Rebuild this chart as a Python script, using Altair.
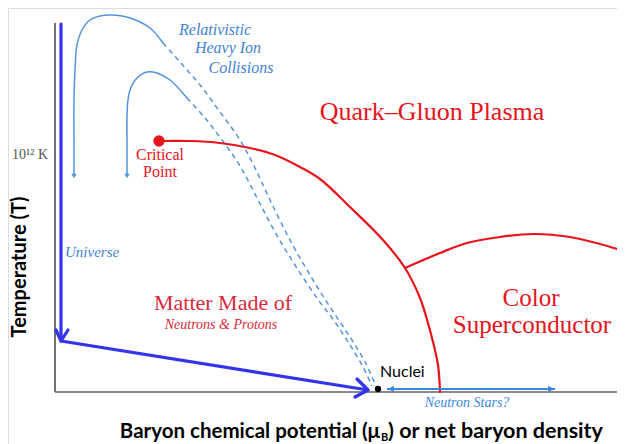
import altair as alt
import pandas as pd

# ---- coordinate frame: x = baryon chemical potential, y = temperature (arbitrary units) ----
X_DOMAIN = [-47, 562]
Y_DOMAIN = [-52, 384]
W, H = 609, 436

# axes frame
axis_v_x = [0, 0]
axis_v_y = [369, 0]
axis_h_x = [0, 562]
axis_h_y = [0, 0]

# Early universe trajectory (thick blue)
universe_x = [6, 6, 313]
universe_y = [368, 51, 2]
universe_head1_x = [1, 6, 13]
universe_head1_y = [62, 51, 62]
universe_head2_x = [302, 313, 300]
universe_head2_y = [13, 2, -5]

# Heavy-ion collision trajectories (light blue)
outer_solid_x = [19, 19, 19, 20, 22, 27, 35, 45, 55, 67, 78, 95, 108]
outer_solid_y = [218, 252, 292, 322, 347, 362, 372, 376, 377, 376, 373, 364, 349]
outer_dash_x = [108, 125, 145, 165, 185, 200, 215, 235, 255, 275, 295, 310, 321]
outer_dash_y = [349, 330, 307, 280, 252, 224, 192, 152, 117, 85, 55, 30, 6]
inner_solid_x = [72, 72, 72, 73, 75, 82, 92, 102, 115, 132]
inner_solid_y = [218, 252, 277, 292, 302, 314, 320, 319, 312, 294]
inner_dash_x = [132, 150, 167, 185, 202, 220, 240, 262, 280, 295, 308, 317]
inner_dash_y = [294, 274, 252, 226, 194, 160, 127, 94, 70, 47, 25, 6]
hic_heads_x = [19, 72]
hic_heads_y = [216, 216]

# Phase boundary (red)
boundary_x = [104, 135, 165, 195, 220, 245, 265, 295, 328, 350, 365, 377, 383, 385]
boundary_y = [251, 251, 249, 244, 237, 225, 213, 185, 152, 124, 94, 54, 27, 0]
csc_x = [350, 385, 412, 445, 478, 515, 545, 562]
csc_y = [124, 139, 149, 155, 158, 155, 148, 143]
critical_x = [104]
critical_y = [251]

# Nuclei and neutron stars
nuclei_x = [323]
nuclei_y = [3]
ns_x = [332, 500]
ns_y = [3, 3]
ns_heads_x = [336, 496]
ns_heads_y = [3, 3]
ns_heads_shape = ["triangle-left", "triangle-right"]

RED = "#e8131c"
BLUE_DARK = "#3333ee"
BLUE_LIGHT = "#5593db"
BLUE_TEXT = "#3f7fd6"

X = alt.X("x:Q", scale=alt.Scale(domain=X_DOMAIN, nice=False, zero=False), axis=None)
Y = alt.Y("y:Q", scale=alt.Scale(domain=Y_DOMAIN, nice=False, zero=False), axis=None)


def line(xs, ys, color, width, dash=None, cap="round", join="round", interp="linear"):
    df = pd.DataFrame({"x": xs, "y": ys, "i": list(range(len(xs)))})
    kw = dict(color=color, strokeWidth=width, strokeCap=cap, strokeJoin=join, interpolate=interp)
    if dash:
        kw["strokeDash"] = dash
    return alt.Chart(df).mark_line(**kw).encode(x=X, y=Y, order="i:Q")


def points(xs, ys, color, size, shape="circle"):
    df = pd.DataFrame({"x": xs, "y": ys})
    return alt.Chart(df).mark_point(filled=True, opacity=1, color=color, size=size,
                                    shape=shape, strokeWidth=0).encode(x=X, y=Y)


def text(xs, ys, labels, **kw):
    df = pd.DataFrame({"x": xs, "y": ys, "t": labels})
    return alt.Chart(df).mark_text(**kw).encode(x=X, y=Y, text="t:N")


CR = "catmull-rom"
layers = [
    line(axis_v_x, axis_v_y, "#707070", 2, cap="butt"),
    line(axis_h_x, axis_h_y, "#8a8a8a", 2, cap="butt"),
    # heavy ion collisions
    line(outer_solid_x, outer_solid_y, BLUE_LIGHT, 1.5, interp=CR),
    line(outer_dash_x, outer_dash_y, BLUE_LIGHT, 1.5, dash=[5, 4], cap="butt", interp=CR),
    line(inner_solid_x, inner_solid_y, BLUE_LIGHT, 1.5, interp=CR),
    line(inner_dash_x, inner_dash_y, BLUE_LIGHT, 1.5, dash=[5, 4], cap="butt", interp=CR),
    points(hic_heads_x, hic_heads_y, BLUE_LIGHT, 30, shape="triangle-down"),
    # phase boundary
    line(boundary_x, boundary_y, RED, 2.2, interp=CR),
    line(csc_x, csc_y, RED, 2.2, interp=CR),
    points(critical_x, critical_y, RED, 130),
    # universe
    line(universe_x, universe_y, BLUE_DARK, 3.2),
    line(universe_head1_x, universe_head1_y, BLUE_DARK, 3.2),
    line(universe_head2_x, universe_head2_y, BLUE_DARK, 3.2),
    # neutron stars
    line(ns_x, ns_y, "#3a86e6", 2, cap="butt"),
]
for hx, hy, sh in zip(ns_heads_x, ns_heads_y, ns_heads_shape):
    layers.append(points([hx], [hy], "#3a86e6", 45, shape=sh))
layers.append(points(nuclei_x, nuclei_y, "#000000", 40))

serif = "Liberation Serif"
sans = "Lato"

layers += [
    text([160, 173, 186], [362, 344, 324], ["Relativistic", "Heavy Ion", "Collisions"],
         font=serif, fontSize=16, fontStyle="italic", color=BLUE_TEXT, align="center", baseline="middle"),
    text([377], [280], ["Quark–Gluon Plasma"], font=serif, fontSize=26, color=RED,
         align="center", baseline="middle"),
    text([476, 477], [94, 67], ["Color", "Superconductor"], font=serif, fontSize=25, color=RED,
         align="center", baseline="middle"),
    text([105, 105], [237, 220], ["Critical", "Point"], font=serif, fontSize=16, color=RED,
         align="center", baseline="middle"),
    text([168], [89], ["Matter Made of"], font=serif, fontSize=22, color="#d72a3a",
         align="center", baseline="middle"),
    text([166], [67], ["Neutrons & Protons"], font=serif, fontSize=14, fontStyle="italic",
         color="#d72a3a", align="center", baseline="middle"),
    text([10], [140], ["Universe"], font=serif, fontSize=15, fontStyle="italic", color=BLUE_TEXT,
         align="left", baseline="middle"),
    text([-25], [237], ["10¹² K"], font=serif, fontSize=14, color="#555555",
         align="center", baseline="middle"),
    text([325], [20], ["Nuclei"], font=sans, fontSize=16, color="#000000",
         align="left", baseline="middle"),
    text([412], [-11], ["Neutron  Stars?"], font=serif, fontSize=14, fontStyle="italic",
         color="#3a86e6", align="center", baseline="middle"),
    text([-35], [125], ["Temperature (T)"], font=sans, fontSize=20, fontWeight="bold",
         color="#000000", angle=270, align="center", baseline="middle"),
    text([325], [-46], ["Baryon chemical potential (μ"], font=sans, fontSize=20.5,
         fontWeight="bold", color="#000000", align="right", baseline="alphabetic"),
    text([326], [-49], ["B"], font=sans, fontSize=11, fontWeight="bold", color="#000000",
         align="left", baseline="alphabetic"),
    text([333], [-46], [") or net baryon density"], font=sans, fontSize=21.5,
         fontWeight="bold", color="#000000", align="left", baseline="alphabetic"),
]

chart = alt.layer(*layers).properties(
    width=W, height=H, autosize=alt.AutoSizeParams(type="none"), padding=0
).configure_view(stroke=None).configure(background="white")

chart.save("out.html", embed_options={"renderer": "svg", "actions": False})
